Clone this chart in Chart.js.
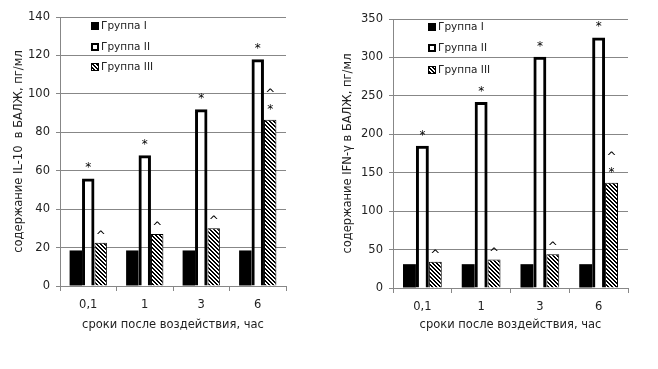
<!DOCTYPE html>
<html>
<head>
<meta charset="utf-8">
<script src="https://cdn.jsdelivr.net/npm/chart.js@4"></script>
<style>
  html, body { margin: 0; padding: 0; background: #fff; }
  #wrap { position: relative; width: 658px; height: 369px; }
  #il10Chart { position: absolute; left: 0; top: 0; }
  #ifnChart { position: absolute; left: 329px; top: 0; }
</style>
</head>
<body>
<div id="wrap">
  <canvas id="il10Chart" width="329" height="369"></canvas>
  <canvas id="ifnChart" width="329" height="369"></canvas>
</div>
<script>
// --- Data ---
const categories = ['0,1', '1', '3', '6'];
const groupNames = ['Группа I', 'Группа II', 'Группа III'];

const il10GroupI = [18.5, 18.5, 18.5, 18.5];
const il10GroupII = [56, 68, 92, 118];
const il10GroupIII = [22.5, 27, 30, 86.5];
const il10Max = 140;
const il10Step = 20;

const ifnGroupI = [31, 31, 31, 31];
const ifnGroupII = [185, 242, 301, 326];
const ifnGroupIII = [34, 37, 44, 137];
const ifnMax = 350;
const ifnStep = 50;

// significance marks, listed bottom to top
const marksGroupII = [['*'], ['*'], ['*'], ['*']];
const marksGroupIII = [['^'], ['^'], ['^'], ['*', '^']];

const FONT = 'DejaVu Sans';
const TEXT = '#222';
const GRID = '#878787';

// diagonal hatch for group III
function makeHatch() {
    const c = document.createElement('canvas');
    c.width = 4; c.height = 4;
    const g = c.getContext('2d');
    g.fillStyle = '#fff';
    g.fillRect(0, 0, 4, 4);
    g.fillStyle = '#000';
    for (let y = 0; y < 4; y++) {
        g.fillRect(y, y, 1, 1);
        g.fillRect((y + 1) % 4, y, 1, 1);
    }
    return g.createPattern(c, 'repeat');
}
const hatch = makeHatch();

// legend drawn inside plot area, top left
const boxLegend = {
    id: 'boxLegend',
    afterDraw(chart, args, opts) {
        const { ctx, chartArea } = chart;
        const x0 = chartArea.left + opts.dx;
        ctx.save();
        ctx.font = '10.5px ' + FONT;
        ctx.textBaseline = 'middle';
        ctx.textAlign = 'left';
        groupNames.forEach((name, i) => {
            const y = chartArea.top + opts.rows[i];
            if (i === 0) {
                ctx.fillStyle = '#000';
                ctx.fillRect(x0, y - 4, 8, 8);
            } else if (i === 1) {
                ctx.fillStyle = '#fff';
                ctx.fillRect(x0, y - 4, 8, 8);
                ctx.strokeStyle = '#000';
                ctx.lineWidth = 2;
                ctx.strokeRect(x0 + 1, y - 3, 6, 6);
            } else {
                ctx.fillStyle = hatch;
                ctx.fillRect(x0, y - 4, 8, 8);
                ctx.strokeStyle = '#000';
                ctx.lineWidth = 1;
                ctx.strokeRect(x0 + 0.5, y - 3.5, 7, 7);
            }
            ctx.fillStyle = TEXT;
            ctx.fillText(name, x0 + 10, y);
        });
        ctx.restore();
    }
};

// * and ^ above bars
const barMarks = {
    id: 'barMarks',
    afterDatasetsDraw(chart) {
        const { ctx } = chart;
        ctx.save();
        ctx.font = '12px ' + FONT;
        ctx.fillStyle = '#000';
        ctx.textAlign = 'center';
        ctx.textBaseline = 'alphabetic';
        [[1, marksGroupII], [2, marksGroupIII]].forEach(([di, marks]) => {
            const meta = chart.getDatasetMeta(di);
            meta.data.forEach((bar, i) => {
                (marks[i] || []).forEach((m, k) => {
                    const base = m === '*' ? 7 : 3;
                    ctx.fillText(m, bar.x, bar.y - base - k * 19);
                });
            });
        });
        ctx.restore();
    }
};

function buildChart(el, d1, d2, d3, max, step, yTitle, box) {
    return new Chart(el, {
        type: 'bar',
        data: {
            labels: categories,
            datasets: [
                { label: groupNames[0], data: d1, backgroundColor: '#000', borderWidth: 0 },
                { label: groupNames[1], data: d2, backgroundColor: 'rgba(0,0,0,0)', borderColor: '#000', borderWidth: 3 },
                { label: groupNames[2], data: d3, backgroundColor: hatch, borderColor: '#000', borderWidth: 1 }
            ]
        },
        options: {
            responsive: false,
            animation: false,
            devicePixelRatio: 1,
            layout: { padding: { left: 0, top: box.top, right: box.right, bottom: 0 } },
            datasets: { bar: { barPercentage: 1, categoryPercentage: 0.66 } },
            plugins: {
                legend: { display: false },
                tooltip: { enabled: false },
                boxLegend: { dx: box.legendDx, rows: box.rows }
            },
            scales: {
                x: {
                    afterFit: s => { s.height = box.xHeight; },
                    grid: { drawOnChartArea: false, drawTicks: true, tickLength: 5, color: GRID },
                    border: { color: GRID },
                    ticks: { color: TEXT, font: { family: FONT, size: 11.5 }, padding: 7 },
                    title: {
                        display: true, text: 'сроки после воздействия, час', color: TEXT,
                        font: { family: FONT, size: 11.5 }, padding: { top: 0, bottom: 37 }
                    }
                },
                y: {
                    min: 0, max: max,
                    afterFit: s => { s.width = box.yWidth; },
                    grid: { color: GRID, tickLength: 4 },
                    border: { color: GRID },
                    ticks: { stepSize: step, color: TEXT, font: { family: FONT, size: 11.5 }, padding: 6 },
                    title: {
                        display: true, text: yTitle, color: TEXT,
                        font: { family: FONT, size: 11.5 }, padding: { top: 12, bottom: 0 }
                    }
                }
            }
        },
        plugins: [boxLegend, barMarks]
    });
}

buildChart(document.getElementById('il10Chart'), il10GroupI, il10GroupII, il10GroupIII,
    il10Max, il10Step, 'содержание IL-10  в БАЛЖ, пг/мл',
    { top: 17, right: 43, xHeight: 83, yWidth: 60, legendDx: 31, rows: [9, 30, 50] });

buildChart(document.getElementById('ifnChart'), ifnGroupI, ifnGroupII, ifnGroupIII,
    ifnMax, ifnStep, 'содержание IFN-γ в БАЛЖ, пг/мл',
    { top: 19, right: 30, xHeight: 81, yWidth: 64, legendDx: 35, rows: [8, 29, 51] });
</script>
</body>
</html>
